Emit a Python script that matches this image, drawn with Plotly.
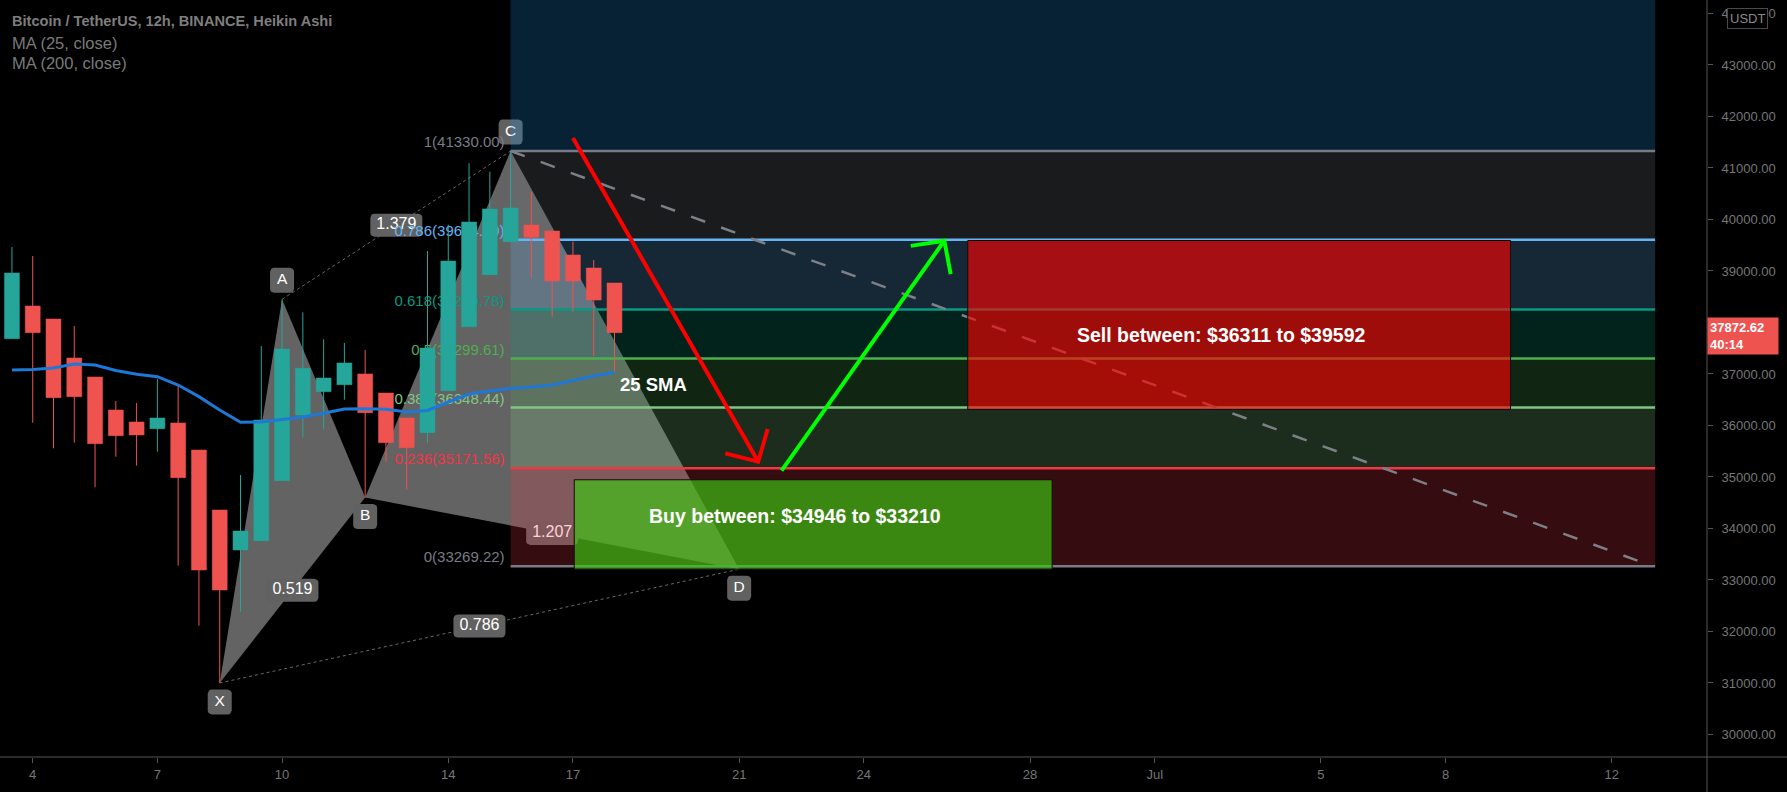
import math
import pandas as pd
import plotly.graph_objects as go

# ----------------------------- data -----------------------------
candle_start = "2021-06-03 12:00"
ha_open = [37686, 38320, 38068, 37311, 36942, 36301, 36068, 35938, 36049, 35524,
           34359, 33583, 33763, 34928, 36204, 36656, 36792, 37000, 36631, 36146,
           35860, 36676, 37918, 38928, 39569, 39893, 39777, 39311, 39058, 38767]
ha_high = [39466, 39291, 38068, 37932, 36942, 36476, 36437, 36903, 36786, 35524,
           34359, 35039, 37544, 38450, 38198, 37674, 37602, 37466, 36631, 36146,
           39388, 39900, 41091, 40928, 41330, 40540, 39777, 39569, 39214, 38767]
ha_low = [37686, 36054, 35557, 35666, 34800, 35394, 35220, 35491, 33278, 32113,
          31000, 32385, 33763, 34928, 35771, 35926, 36501, 34600, 35297, 34761,
          35666, 36676, 37918, 38928, 39569, 38872, 38113, 38211, 37350, 37045]
ha_close = [38961, 37802, 36540, 36559, 35647, 35802, 35816, 36146, 34987, 33194,
            32806, 33951, 36107, 37485, 37111, 36922, 37214, 36249, 35666, 35569,
            37505, 39194, 39951, 40204, 40223, 39654, 38806, 38806, 38437, 37802]
ma25 = [37078, 37087, 37117, 37194, 37175, 37068, 36994, 36948, 36786, 36560,
        36301, 36062, 36068, 36117, 36165, 36237, 36320, 36326, 36314, 36262,
        36291, 36456, 36612, 36670, 36718, 36748, 36786, 36874, 36961, 37033]
last_price_text = "37872.62"
countdown_text = "40:14"

xtick_dates = ["2021-06-04", "2021-06-07", "2021-06-10", "2021-06-14", "2021-06-17",
               "2021-06-21", "2021-06-24", "2021-06-28", "2021-07-01", "2021-07-05",
               "2021-07-08", "2021-07-12"]
xtick_text = ["4", "7", "10", "14", "17", "21", "24", "28", "Jul", "5", "8", "12"]
ytick_vals = list(range(30000, 44001, 1000))

# XABCD harmonic pattern
pat_labels = ["X", "A", "B", "C", "D"]
pat_time = ["2021-06-08 12:00", "2021-06-10 00:00", "2021-06-12 00:00",
            "2021-06-15 12:00", "2021-06-21 00:00"]
pat_price = [31000, 38450, 34600, 41330, 33210]
ratio_text = ["0.519", "1.379", "1.207", "0.786"]
ratio_from = ["X", "A", "B", "X"]
ratio_to = ["B", "C", "D", "D"]

# Fibonacci retracement
fib_high = 41330.00
fib_low = 33269.22
fib_levels = [0, 0.236, 0.382, 0.5, 0.618, 0.786, 1, 1.618]
fib_colors = ["#787b86", "#f23645", "#81c784", "#4caf50", "#089981", "#64b5f6",
              "#787b86", "#2196f3"]
fib_time = ["2021-06-15 12:00", "2021-07-13 01:00"]

# other drawings
trend_time = ["2021-06-15 12:00", "2021-07-12 17:00"]
trend_price = [41330, 33350]
sell_time = ["2021-06-26 12:00", "2021-07-09 13:30"]
sell_price = [36311, 39592]
sell_text = "Sell between: $36311 to $39592"
buy_time = ["2021-06-17 00:45", "2021-06-28 12:45"]
buy_price = [33210, 34946]
buy_text = "Buy between: $34946 to $33210"
red_arrow_time = ["2021-06-17 00:00", "2021-06-21 11:00"]
red_arrow_price = [41583, 35297]
green_arrow_time = ["2021-06-22 00:30", "2021-06-25 22:30"]
green_arrow_price = [35122, 39588]

title_text = "Bitcoin / TetherUS, 12h, BINANCE, Heikin Ashi"
legend_lines = ["MA (25, close)", "MA (200, close)"]

# ----------------------------- layout geometry -----------------------------
W, H = 1787, 792
ML, MR, MT, MB = 0, 80, 0, 35
PW, PH = W - ML - MR, H - MT - MB
X0 = pd.Timestamp("2021-06-03 05:06")
X1 = pd.Timestamp("2021-07-14 06:58")
Y0, Y1 = 29563, 44262
FONT = "Liberation Sans, Arial, sans-serif"


def tx(t):
    return (pd.Timestamp(t) - X0) / (X1 - X0) * PW


def xt(px):
    return X0 + (X1 - X0) * (px / PW)


def py(p):
    return (Y1 - p) / (Y1 - Y0) * PH


def yp(v):
    return Y1 - v / PH * (Y1 - Y0)


def rgba(hexc, a):
    h = hexc.lstrip("#")
    return "rgba(%d,%d,%d,%.3f)" % (int(h[0:2], 16), int(h[2:4], 16), int(h[4:6], 16), a)


def fib_price(l):
    return fib_low + l * (fib_high - fib_low)


fig = go.Figure()


def poly(xs, ys, fill, line=None):
    fig.add_trace(go.Scatter(x=xs, y=ys, mode="lines", fill="toself", fillcolor=fill,
                             line=line or dict(width=0), hoverinfo="skip", showlegend=False))


def line(xs, ys, color, width, dash=None):
    fig.add_trace(go.Scatter(x=xs, y=ys, mode="lines",
                             line=dict(color=color, width=width, dash=dash),
                             hoverinfo="skip", showlegend=False))


def label(cx, cy, w, h, text, size, fill="#616161", color="white", r=4):
    """rounded label box centred at pixel (cx, cy), drawn as data-space traces"""
    xs, ys = [], []
    corners = [(cx + w / 2 - r, cy - h / 2 + r, -90, 0), (cx + w / 2 - r, cy + h / 2 - r, 0, 90),
               (cx - w / 2 + r, cy + h / 2 - r, 90, 180), (cx - w / 2 + r, cy - h / 2 + r, 180, 270)]
    for ccx, ccy, a0, a1 in corners:
        for k in range(5):
            a = math.radians(a0 + (a1 - a0) * k / 4)
            xs.append(xt(ccx + r * math.cos(a)))
            ys.append(yp(ccy + r * math.sin(a)))
    xs.append(xs[0])
    ys.append(ys[0])
    poly(xs, ys, fill)
    fig.add_trace(go.Scatter(x=[xt(cx)], y=[yp(cy)], mode="text", text=[text],
                             textposition="middle center",
                             textfont=dict(family=FONT, size=size, color=color),
                             hoverinfo="skip", showlegend=False))


P = {k: (pd.Timestamp(t), p) for k, t, p in zip(pat_labels, pat_time, pat_price)}

# harmonic triangles
for tri in (("X", "A", "B"), ("B", "C", "D")):
    xs = [P[k][0] for k in tri] + [P[tri[0]][0]]
    ys = [P[k][1] for k in tri] + [P[tri[0]][1]]
    poly(xs, ys, "rgba(124,124,124,0.80)")
for a, b in (("A", "C"), ("X", "D")):
    line([P[a][0], P[b][0]], [P[a][1], P[b][1]], "rgba(150,150,150,0.7)", 1, "dot")

# pattern labels (below the fib fills, like the reference)
for k in pat_labels:
    t, p = P[k]
    above = k in ("A", "C")
    label(tx(t), py(p) + (-19 if above else 19), 24, 25, k, 15.5)
for txt, a, b in zip(ratio_text, ratio_from, ratio_to):
    cx = (tx(P[a][0]) + tx(P[b][0])) / 2
    cy = (py(P[a][1]) + py(P[b][1])) / 2
    label(cx, cy, 52, 23, txt, 16)

# fib zones
for i in range(len(fib_levels) - 1):
    ya, yb = fib_price(fib_levels[i]), fib_price(fib_levels[i + 1])
    poly([fib_time[0], fib_time[1], fib_time[1], fib_time[0], fib_time[0]],
         [ya, ya, yb, yb, ya], rgba(fib_colors[i + 1], 0.22))
# fib lines + labels
for l, c in zip(fib_levels, fib_colors):
    if l > 1:
        continue
    p = fib_price(l)
    line(fib_time, [p, p], c, 2.5)
label_x = xt(tx(fib_time[0]) - 6)
fig.add_trace(go.Scatter(
    x=[label_x] * 7, y=[fib_price(l) for l in fib_levels[:7]], mode="text",
    text=["%s(%.2f)" % (("%g" % l), fib_price(l)) for l in fib_levels[:7]],
    textposition="top left",
    textfont=dict(family=FONT, size=15, color=fib_colors[:7]),
    hoverinfo="skip", showlegend=False))

# heikin ashi candles (wicks + bodies drawn as filled scatter so they sit above fills)
ct = pd.date_range(candle_start, periods=len(ha_open), freq="12h")
half_w = pd.Timedelta(hours=12) * 0.36
for up, col in ((True, "#26a69a"), (False, "#ef5350")):
    idx = [i for i in range(len(ct)) if (ha_close[i] >= ha_open[i]) == up]
    wx, wy, bxs, bys = [], [], [], []
    for i in idx:
        wx += [ct[i], ct[i], None]
        wy += [ha_low[i], ha_high[i], None]
        lo, hi = min(ha_open[i], ha_close[i]), max(ha_open[i], ha_close[i])
        l_, r_ = ct[i] - half_w, ct[i] + half_w
        bxs += [l_, r_, r_, l_, l_, None]
        bys += [lo, lo, hi, hi, lo, None]
    fig.add_trace(go.Scatter(x=wx, y=wy, mode="lines", line=dict(color=col, width=1),
                             hoverinfo="skip", showlegend=False))
    fig.add_trace(go.Scatter(x=bxs, y=bys, mode="lines", fill="toself", fillcolor=col,
                             line=dict(color=col, width=0.5),
                             hoverinfo="skip", showlegend=False))

# MA 25
line(list(ct), ma25, "#1e78d6", 3)

# dashed trend line
line(trend_time, trend_price, "#7d8087", 2.5, "15px,17px")

# sell / buy boxes
poly([sell_time[0], sell_time[1], sell_time[1], sell_time[0], sell_time[0]],
     [sell_price[0], sell_price[0], sell_price[1], sell_price[1], sell_price[0]],
     "rgba(255,0,0,0.62)", dict(color="#0d0d0d", width=1))
poly([buy_time[0], buy_time[1], buy_time[1], buy_time[0], buy_time[0]],
     [buy_price[0], buy_price[0], buy_price[1], buy_price[1], buy_price[0]],
     "rgba(61,198,19,0.67)", dict(color="#1a0808", width=1))


def arrow(ts, ps, color):
    x0, y0 = tx(ts[0]), py(ps[0])
    x1, y1 = tx(ts[1]), py(ps[1])
    back = math.atan2(y0 - y1, x0 - x1)
    L = 34
    bx, by = [], []
    for s in (1, -1):
        a = back + s * math.radians(46)
        bx.append(xt(x1 + L * math.cos(a)))
        by.append(yp(y1 + L * math.sin(a)))
    t1 = pd.Timestamp(ts[1])
    xs = [pd.Timestamp(ts[0]), t1, None, bx[0], t1, bx[1]]
    ys = [ps[0], ps[1], None, by[0], ps[1], by[1]]
    fig.add_trace(go.Scatter(x=xs, y=ys, mode="lines", line=dict(color=color, width=4),
                             hoverinfo="skip", showlegend=False))


arrow(red_arrow_time, red_arrow_price, "#ff0000")
arrow(green_arrow_time, green_arrow_price, "#00ff00")

# ----------------------------- annotations -----------------------------
ann = []
sx = pd.Timestamp(sell_time[0]) + (pd.Timestamp(sell_time[1]) - pd.Timestamp(sell_time[0])) / 2
ann.append(dict(x=sx, y=sum(sell_price) / 2, text="<b>%s</b>" % sell_text, showarrow=False,
                xshift=-18, yshift=-10, font=dict(family=FONT, size=19.5, color="white")))
bx_ = pd.Timestamp(buy_time[0]) + (pd.Timestamp(buy_time[1]) - pd.Timestamp(buy_time[0])) / 2
ann.append(dict(x=bx_, y=sum(buy_price) / 2, text="<b>%s</b>" % buy_text, showarrow=False,
                xshift=-18, yshift=8, font=dict(family=FONT, size=19.5, color="white")))
ann.append(dict(x=ct[-1], y=ma25[-1], text="<b>25 SMA</b>", showarrow=False,
                xanchor="left", xshift=3, yshift=-12,
                font=dict(family=FONT, size=18.5, color="white")))

# legend text
ann.append(dict(xref="paper", yref="paper", x=10 / PW, y=1 - 20.5 / PH, xanchor="left",
                yanchor="middle", text="<b>%s</b>" % title_text, showarrow=False,
                font=dict(family=FONT, size=14.6, color="#7e7e7e")))
for i, s in enumerate(legend_lines):
    ann.append(dict(xref="paper", yref="paper", x=10 / PW, y=1 - (42.8 + 20.5 * i) / PH,
                    xanchor="left", yanchor="middle", text=s, showarrow=False,
                    font=dict(family=FONT, size=16.5, color="#7a7a7a")))

# price label on axis
ann.append(dict(xref="paper", yref="y", x=1, y=ha_close[-1], xanchor="left",
                yanchor="middle", yshift=-3,
                text="<b>%s</b><br><b>%s</b>" % (last_price_text, countdown_text),
                showarrow=False, align="left", bgcolor="#ef5350", borderpad=2, width=66,
                font=dict(family=FONT, size=13, color="white")))
# USDT badge
ann.append(dict(xref="paper", yref="paper", x=1747.5 / PW, y=1 - 19 / PH, xanchor="center",
                yanchor="middle", text="USDT", showarrow=False, bgcolor="#000000",
                bordercolor="#4a4a4a", borderwidth=1, borderpad=2,
                font=dict(family=FONT, size=13, color="#8a8a8a")))

shapes = [
    dict(type="line", xref="paper", yref="paper", x0=0, x1=W / PW, y0=0, y1=0,
         line=dict(color="#555555", width=1)),
    dict(type="line", xref="paper", yref="paper", x0=1, x1=1, y0=-MB / PH, y1=1,
         line=dict(color="#555555", width=1)),
]

fig.update_layout(
    width=W, height=H, margin=dict(l=ML, r=MR, t=MT, b=MB),
    paper_bgcolor="#000000", plot_bgcolor="#000000",
    showlegend=False, hovermode=False,
    font=dict(family=FONT, color="#767676"),
    annotations=ann, shapes=shapes,
    xaxis=dict(type="date", range=[X0, X1], showgrid=False, zeroline=False,
               tickvals=xtick_dates, ticktext=xtick_text, ticks="outside", ticklen=5,
               tickcolor="#555555", tickfont=dict(family=FONT, size=13, color="#767676"),
               showline=False, fixedrange=True),
    yaxis=dict(range=[Y0, Y1], side="right", showgrid=False, zeroline=False,
               tickvals=ytick_vals, tickformat=".2f", ticks="outside", ticklen=5,
               tickcolor="#555555", ticklabelstandoff=6,
               tickfont=dict(family=FONT, size=13, color="#767676"),
               showline=False, fixedrange=True),
)

fig.write_html("out.html", config={"displayModeBar": False},
               post_script="document.body.style.margin='0px';"
                           "document.body.style.background='#000';"
                           "document.body.style.overflow='hidden';")
